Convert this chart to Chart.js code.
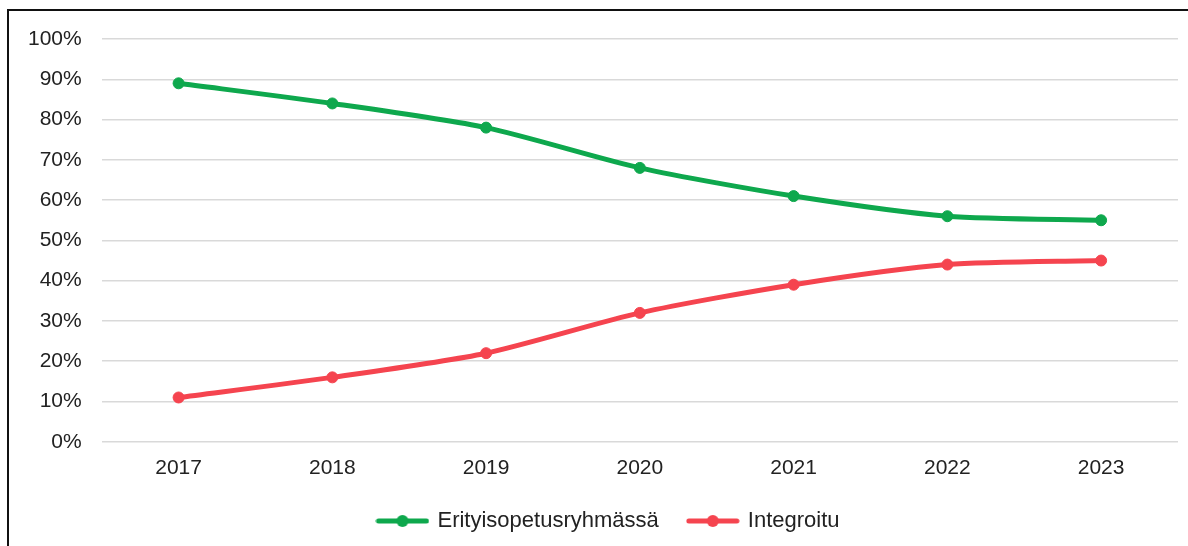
<!DOCTYPE html>
<html>
<head>
<meta charset="utf-8">
<script src="https://cdn.jsdelivr.net/npm/chart.js@4"></script>
<style>
  html, body { margin: 0; padding: 0; background: #fff; }
  #wrap { position: relative; width: 1188px; height: 546px; overflow: hidden; }
  #frame { position: absolute; left: 7px; top: 9px; width: 1200px; height: 600px;
           border-left: 2.5px solid #111; border-top: 2.5px solid #111; pointer-events: none; }
  canvas { position: absolute; left: 0; top: 0; }
</style>
</head>
<body>
<div id="wrap">
  <canvas id="chart" width="1188" height="546"></canvas>
  <div id="frame"></div>
</div>
<script>
const years = ['2017', '2018', '2019', '2020', '2021', '2022', '2023'];
const erityisopetus = [89, 84, 78, 68, 61, 56, 55];
const integroitu = [11, 16, 22, 32, 39, 44, 45];
const greenColor = '#0ea84d';
const redColor = '#f5444f';

// legend marker: short line with a dot in the middle
function legendMarker(color) {
    const c = document.createElement('canvas');
    c.width = 54;
    c.height = 14;
    const ctx = c.getContext('2d');
    ctx.strokeStyle = color;
    ctx.lineWidth = 5;
    ctx.lineCap = 'round';
    ctx.beginPath();
    ctx.moveTo(3, 7);
    ctx.lineTo(51, 7);
    ctx.stroke();
    ctx.fillStyle = color;
    ctx.beginPath();
    ctx.arc(27, 7, 6, 0, Math.PI * 2);
    ctx.fill();
    return c;
}

// legend sits a bit right of centre in the original
const shiftLegend = {
    id: 'shiftLegend',
    afterLayout(chart) {
        if (chart.legend) {
            chart.legend.left += 16;
            chart.legend.right += 16;
        }
    }
};

const font = "'Liberation Sans', Arial, sans-serif";

new Chart(document.getElementById('chart').getContext('2d'), {
    type: 'line',
    data: {
        labels: years,
        datasets: [{
            label: 'Erityisopetusryhmässä',
            data: erityisopetus,
            borderColor: greenColor,
            backgroundColor: greenColor,
            borderWidth: 5,
            pointRadius: 5.5,
            pointBorderWidth: 1,
            pointHoverRadius: 5.5,
            tension: 0.25
        }, {
            label: 'Integroitu',
            data: integroitu,
            borderColor: redColor,
            backgroundColor: redColor,
            borderWidth: 5,
            pointRadius: 5.5,
            pointBorderWidth: 1,
            pointHoverRadius: 5.5,
            tension: 0.25
        }]
    },
    plugins: [shiftLegend],
    options: {
        responsive: false,
        animation: false,
        layout: {
            padding: { left: 8, right: 10, top: 39, bottom: 4 }
        },
        scales: {
            x: {
                offset: true,
                grid: { display: false, drawTicks: false },
                border: { display: false },
                ticks: { color: '#222', font: { family: font, size: 21 }, padding: 14 },
                afterFit: scale => { scale.height -= 15; }
            },
            y: {
                min: 0,
                max: 100,
                ticks: {
                    stepSize: 10,
                    color: '#222',
                    font: { family: font, size: 21 },
                    padding: 20,
                    callback: v => v + '%'
                },
                grid: { color: '#d9d9d9', lineWidth: 1.5, drawTicks: false },
                border: { display: false }
            }
        },
        plugins: {
            tooltip: { enabled: false },
            legend: {
                position: 'bottom',
                labels: {
                    usePointStyle: true,
                    pointStyleWidth: 48,
                    color: '#222',
                    font: { family: font, size: 22 },
                    padding: 30,
                    generateLabels: chart => chart.data.datasets.map((ds, i) => ({
                        text: ds.label,
                        pointStyle: legendMarker(ds.borderColor),
                        fillStyle: ds.borderColor,
                        strokeStyle: ds.borderColor,
                        lineWidth: 0,
                        fontColor: '#222',
                        datasetIndex: i
                    }))
                }
            }
        }
    }
});
</script>
</body>
</html>
